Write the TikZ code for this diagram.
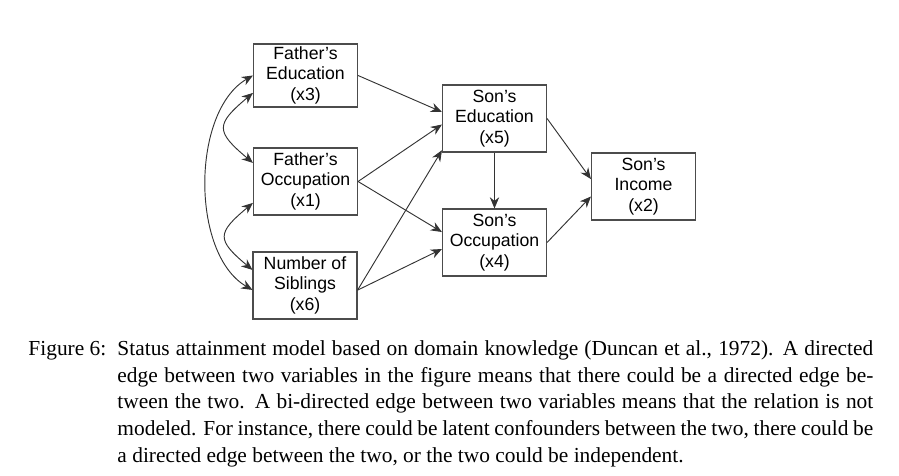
\documentclass[tikz,border=0pt]{standalone}
\usepackage{fontspec}
\setmainfont{Liberation Serif}
\newfontfamily\boxfont{Liberation Sans}
\usetikzlibrary{arrows.meta}

\begin{document}
\begin{tikzpicture}[x=0.43pt,y=-0.43pt,
        >={Stealth[length=4.8pt,width=4pt]},
        var/.style={draw=black!70,line width=0.5pt,minimum width=44.7pt,minimum height=28.8pt,
            inner sep=0pt,font=\boxfont\fontsize{7.6}{8.8}\selectfont},
        edge/.style={->,draw=black!80,line width=0.4pt}]
        \useasboundingbox (0,0) rectangle (899,476);

        % variables
        \node[var,minimum height=27.1pt] (x3) at (305.5,75.5) {
            \begin{tabular}{@{}c@{}}
                Father’s \\
                Education \\
                (x3)
            \end{tabular}
            };
        \node[var] (x1) at (305.5,181.5) {
            \begin{tabular}{@{}c@{}}
                Father’s \\
                Occupation \\
                (x1)
            \end{tabular}
            };
        \node[var] (x6) at (305,285.5) {
            \begin{tabular}{@{}c@{}}
                Number of \\
                Siblings \\
                (x6)
            \end{tabular}
            };
        \node[var] (x5) at (494.5,118.5) {
            \begin{tabular}{@{}c@{}}
                Son’s \\
                Education \\
                (x5)
            \end{tabular}
            };
        \node[var] (x4) at (494.5,242.5) {
            \begin{tabular}{@{}c@{}}
                Son’s \\
                Occupation \\
                (x4)
            \end{tabular}
            };
        \node[var] (x2) at (643.5,186.5) {
            \begin{tabular}{@{}c@{}}
                Son’s \\
                Income \\
                (x2)
            \end{tabular}
            };

        % directed edges
        \draw[edge] (x3.east) -- ([yshift=2.8pt]x5.west);
        \draw[edge] (x1.east) -- ([yshift=-2.6pt]x5.west);
        \draw[edge] ([yshift=-2pt]x6.east) -- ([yshift=1pt]x5.south west);
        \draw[edge] (x1.east) -- ([yshift=4.5pt]x4.west);
        \draw[edge] ([yshift=-2pt]x6.east) -- ([yshift=-2.8pt]x4.west);
        \draw[edge] (x5.south) -- (x4.north);
        \draw[edge] (x5.east) -- ([yshift=3.2pt]x2.west);
        \draw[edge] (x4.east) -- ([yshift=-4.3pt]x2.west);

        % bi-directed edges
        \draw[edge,<->] (x3.west) to[out=210,in=150,looseness=0.85] ([yshift=-1.9pt]x6.west);
        \draw[edge,<->] ([yshift=-7.5pt]x3.west) to[out=220,in=140,looseness=1.8] ([yshift=8pt]x1.west);
        \draw[edge,<->] ([yshift=-9.2pt]x1.west) to[out=220,in=140,looseness=1.8] ([yshift=6.7pt]x6.west);

        % caption
        \node[anchor=base west,inner sep=0pt,font=\fontsize{9.2}{11.5}\selectfont] (figlabel) at (28,356) {Figure 6:};
        \node[anchor=north west,inner sep=0pt,text width=325pt,align=justify,
            font=\fontsize{9.2}{11.5}\selectfont] (caption) at (117,340) {
            Status attainment model based on domain knowledge (Duncan et al., 1972).  A directed\linebreak
            edge between two variables in the figure means that there could be a directed edge be-\linebreak
            tween the two.  A bi-directed edge between two variables means that the relation is not\linebreak
            modeled. For instance, there could be latent confounders between the two, there could be\linebreak
            a directed edge between the two, or the two could be independent.
            };
    \end{tikzpicture}
\end{document}
